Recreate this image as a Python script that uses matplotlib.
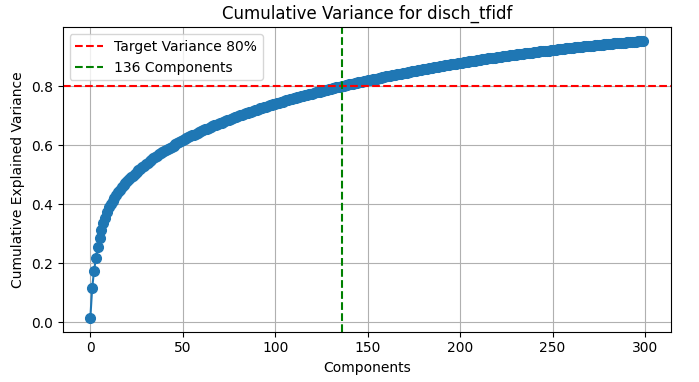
import numpy as np
import matplotlib
matplotlib.use('Agg')
import matplotlib.pyplot as plt

# cumulative explained variance (components 0..299)
cum_var = [
    0.015, 0.117, 0.174, 0.218, 0.255, 0.286, 0.312, 0.335, 0.355, 0.373,
    0.390, 0.402, 0.412, 0.422, 0.432, 0.441, 0.449, 0.457, 0.464, 0.471,
    0.478, 0.485, 0.491, 0.497, 0.503, 0.509, 0.515, 0.520, 0.526, 0.531,
    0.536, 0.541, 0.546, 0.551, 0.556, 0.560, 0.564, 0.569, 0.572, 0.576,
    0.580, 0.584, 0.588, 0.592, 0.595, 0.599, 0.603, 0.606, 0.610, 0.613,
    0.617, 0.620, 0.623, 0.627, 0.630, 0.633, 0.636, 0.639, 0.642, 0.645,
    0.648, 0.651, 0.654, 0.656, 0.659, 0.662, 0.665, 0.667, 0.670, 0.672,
    0.675, 0.677, 0.680, 0.682, 0.685, 0.687, 0.690, 0.692, 0.694, 0.697,
    0.699, 0.701, 0.703, 0.706, 0.708, 0.710, 0.712, 0.714, 0.717, 0.719,
    0.721, 0.723, 0.725, 0.727, 0.729, 0.731, 0.733, 0.735, 0.737, 0.739,
    0.740, 0.742, 0.744, 0.746, 0.748, 0.750, 0.752, 0.753, 0.755, 0.757,
    0.759, 0.760, 0.762, 0.764, 0.766, 0.767, 0.769, 0.771, 0.772, 0.774,
    0.775, 0.777, 0.779, 0.780, 0.782, 0.783, 0.785, 0.787, 0.788, 0.790,
    0.791, 0.793, 0.794, 0.796, 0.797, 0.799, 0.800, 0.802, 0.803, 0.804,
    0.806, 0.807, 0.809, 0.810, 0.811, 0.813, 0.814, 0.816, 0.817, 0.818,
    0.820, 0.821, 0.822, 0.824, 0.825, 0.826, 0.828, 0.829, 0.830, 0.832,
    0.833, 0.834, 0.835, 0.837, 0.838, 0.839, 0.840, 0.842, 0.843, 0.844,
    0.845, 0.846, 0.848, 0.849, 0.850, 0.851, 0.852, 0.854, 0.855, 0.856,
    0.857, 0.858, 0.859, 0.861, 0.862, 0.863, 0.864, 0.865, 0.866, 0.867,
    0.868, 0.869, 0.871, 0.872, 0.873, 0.874, 0.875, 0.876, 0.877, 0.878,
    0.879, 0.880, 0.881, 0.882, 0.883, 0.884, 0.885, 0.886, 0.887, 0.888,
    0.889, 0.890, 0.891, 0.892, 0.893, 0.894, 0.895, 0.896, 0.897, 0.897,
    0.898, 0.899, 0.900, 0.901, 0.902, 0.903, 0.904, 0.905, 0.905, 0.906,
    0.907, 0.908, 0.909, 0.910, 0.910, 0.911, 0.912, 0.913, 0.914, 0.914,
    0.915, 0.916, 0.917, 0.918, 0.918, 0.919, 0.920, 0.921, 0.921, 0.922,
    0.923, 0.924, 0.924, 0.925, 0.926, 0.927, 0.927, 0.928, 0.929, 0.930,
    0.930, 0.931, 0.932, 0.932, 0.933, 0.934, 0.934, 0.935, 0.936, 0.936,
    0.937, 0.938, 0.938, 0.939, 0.940, 0.940, 0.941, 0.941, 0.942, 0.943,
    0.943, 0.944, 0.944, 0.945, 0.946, 0.946, 0.947, 0.947, 0.948, 0.948,
    0.949, 0.949, 0.950, 0.950, 0.951, 0.951, 0.952, 0.952, 0.953, 0.953,
]
components = list(range(len(cum_var)))

target = 0.8
n_components = 136
title = 'Cumulative Variance for disch_tfidf'

fig = plt.figure(figsize=(6.99, 3.82), dpi=100)
ax = fig.add_axes([0.0897, 0.1317, 0.870, 0.797])

ax.plot(components, cum_var, marker='o', markersize=7, color='#1f77b4')
ax.axhline(y=target, color='r', linestyle='--', label='Target Variance 80%')
ax.axvline(x=n_components, color='g', linestyle='--', label=f'{n_components} Components')

ax.set_title(title, fontsize=12)
ax.set_xlabel('Components')
ax.set_ylabel('Cumulative Explained Variance')
ax.set_xticks([0, 50, 100, 150, 200, 250, 300])
ax.set_yticks([0.0, 0.2, 0.4, 0.6, 0.8])
ax.grid(True)
ax.legend(loc='upper left')

fig.savefig('out.png', dpi=100)
